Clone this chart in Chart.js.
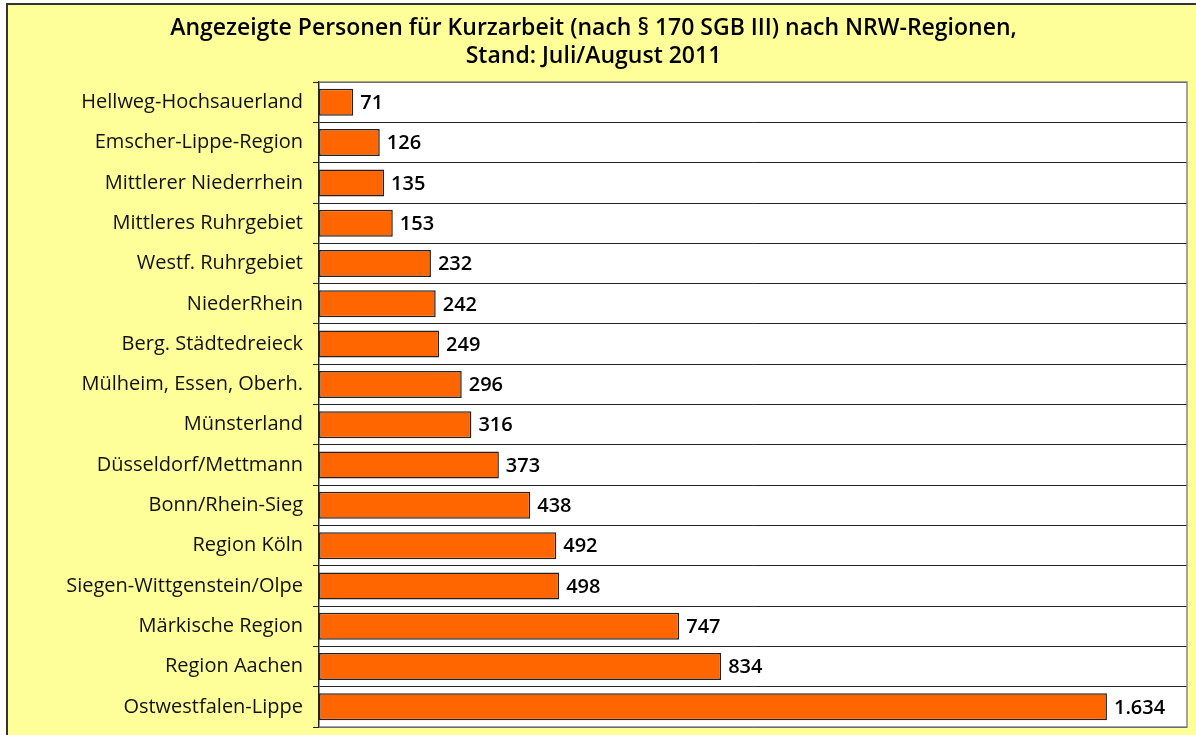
<!DOCTYPE html>
<html lang="de">
<head>
  <meta charset="UTF-8">
  <title>Kurzarbeit NRW-Regionen</title>
  <script src="https://cdn.jsdelivr.net/npm/chart.js"></script>
  <style>
    html, body { margin: 0; padding: 0; background: #fff; }
    #wrap { width: 1196px; height: 735px; position: relative; }
  </style>
</head>
<body>
  <div id="wrap"><canvas id="kurzChart" width="1196" height="735"></canvas></div>

  <script>
    const titleLines = [
      'Angezeigte Personen für Kurzarbeit (nach § 170 SGB III) nach NRW-Regionen,',
      'Stand: Juli/August 2011'
    ];
    const regions = [
      'Hellweg-Hochsauerland', 'Emscher-Lippe-Region', 'Mittlerer Niederrhein',
      'Mittleres Ruhrgebiet', 'Westf. Ruhrgebiet', 'NiederRhein', 'Berg. Städtedreieck',
      'Mülheim, Essen, Oberh.', 'Münsterland', 'Düsseldorf/Mettmann', 'Bonn/Rhein-Sieg',
      'Region Köln', 'Siegen-Wittgenstein/Olpe', 'Märkische Region', 'Region Aachen',
      'Ostwestfalen-Lippe'
    ];
    const persons = [71, 126, 135, 153, 232, 242, 249, 296, 316, 373, 438, 492, 498, 747, 834, 1634];

    const FONT = '"Open Sans", sans-serif';

    function fmt(v) {
      return String(v).replace(/\B(?=(\d{3})+(?!\d))/g, '.');
    }

    // yellow frame + white plot area
    const framePlugin = {
      id: 'frame',
      beforeDraw(chart) {
        const { ctx, chartArea: a } = chart;
        ctx.save();
        ctx.fillStyle = '#ffff99';
        ctx.fillRect(7, 4, chart.width - 7, chart.height - 4);
        ctx.strokeStyle = '#333';
        ctx.lineWidth = 2;
        ctx.beginPath();
        ctx.moveTo(7, chart.height);
        ctx.lineTo(7, 4);
        ctx.lineTo(chart.width, 4);
        ctx.stroke();
        ctx.fillStyle = '#fff';
        ctx.fillRect(a.left, a.top, a.right - a.left, a.bottom - a.top);
        ctx.restore();
      },
      afterDraw(chart) {
        const { ctx, chartArea: a } = chart;
        ctx.save();
        ctx.strokeStyle = '#888';
        ctx.lineWidth = 1.5;
        ctx.beginPath();
        ctx.moveTo(a.left, a.top);
        ctx.lineTo(a.right, a.top);
        ctx.lineTo(a.right, a.bottom);
        ctx.lineTo(a.left, a.bottom);
        ctx.stroke();
        // value labels
        const meta = chart.getDatasetMeta(0);
        ctx.fillStyle = '#000';
        ctx.font = '600 20px ' + FONT;
        ctx.textBaseline = 'middle';
        ctx.textAlign = 'left';
        meta.data.forEach((bar, i) => {
          ctx.fillText(fmt(persons[i]), bar.x + 7, bar.y + 1);
        });
        ctx.restore();
      }
    };

    new Chart(document.getElementById('kurzChart'), {
      type: 'bar',
      data: {
        labels: regions,
        datasets: [{
          data: persons,
          backgroundColor: '#ff6600',
          borderColor: '#222',
          borderWidth: 1.5,
          borderSkipped: false,
          barPercentage: 0.67,
          categoryPercentage: 1
        }]
      },
      options: {
        indexAxis: 'y',
        responsive: false,
        animation: false,
        layout: { padding: { left: 0, right: 9, bottom: 8, top: 0 } },
        plugins: {
          legend: { display: false },
          tooltip: { enabled: false },
          title: {
            display: true,
            text: titleLines,
            color: '#000',
            font: { family: FONT, size: 23, weight: '600', lineHeight: 1.22 },
            padding: { top: 14, bottom: 12 }
          }
        },
        scales: {
          x: { display: false, min: 0, max: 1800 },
          y: {
            afterFit(s) { s.width = 319; s.paddingTop = 0; s.paddingBottom = 0; },
            border: { color: '#222', width: 1.5 },
            grid: { color: '#222', lineWidth: 1, tickLength: 6, offset: true },
            ticks: {
              color: '#111',
              padding: 10,
              font: { family: FONT, size: 20 }
            }
          }
        }
      },
      plugins: [framePlugin]
    });
  </script>
</body>
</html>
